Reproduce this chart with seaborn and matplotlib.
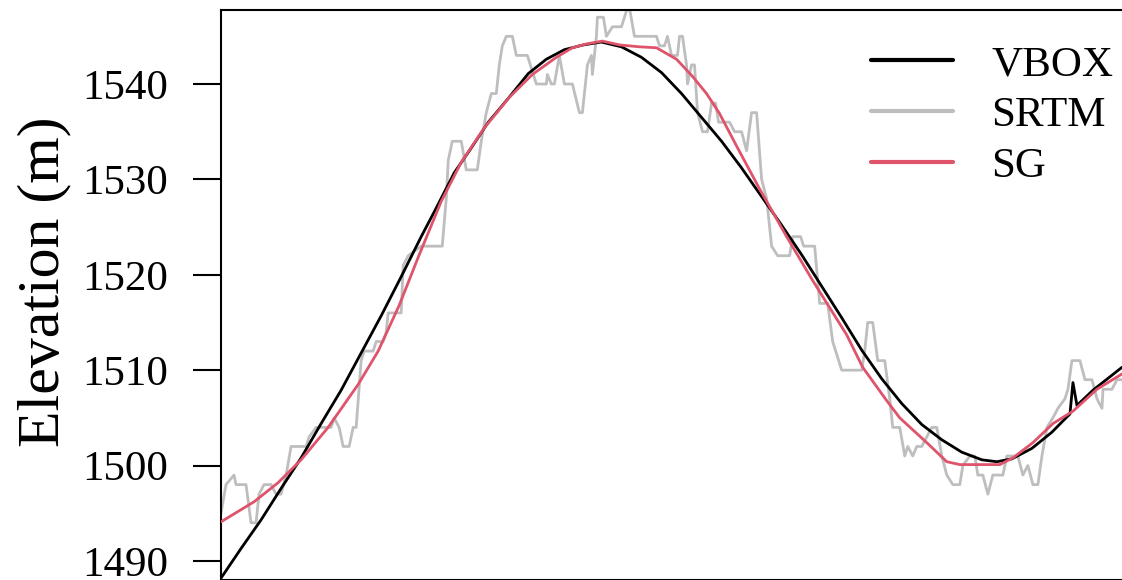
import pandas as pd
import matplotlib
matplotlib.use("Agg")
import matplotlib.pyplot as plt
import seaborn as sns

# distance along track (m) and elevation (m)

vbox_dist = [0, 20, 40, 60, 80, 100, 120, 140, 160, 180, 200, 215, 233, 250, 267,
             287, 307, 325, 343, 362, 380, 400, 420, 440, 460, 480, 500, 520, 540,
             560, 580, 600, 620, 640, 660, 680, 700, 720, 740, 760, 775, 790, 810,
             830, 845, 848, 851, 855, 871, 900]
vbox_elev = [1488.2, 1491.3, 1494.3, 1497.6, 1500.8, 1504.4, 1507.9, 1511.8, 1515.7,
             1519.8, 1524.0, 1527.0, 1530.7, 1533.3, 1536.0, 1538.5, 1541.1, 1542.6,
             1543.6, 1544.1, 1544.4, 1543.9, 1542.8, 1541.2, 1539.0, 1536.5, 1534.0,
             1531.2, 1528.2, 1525.2, 1522.1, 1518.8, 1515.5, 1512.1, 1509.1, 1506.5,
             1504.3, 1502.7, 1501.4, 1500.6, 1500.4, 1500.7, 1501.8, 1503.5, 1505.1,
             1505.4, 1508.7, 1506.3, 1507.9, 1510.3]

srtm_dist = [0, 5, 13, 15, 25, 30, 35, 38, 43, 50, 55, 60, 65, 70, 85, 88, 95, 110,
             113, 118, 122, 128, 132, 135, 140, 143, 152, 155, 162, 165, 167, 180,
             182, 187, 200, 221, 225, 227, 231, 240, 245, 256, 260, 265, 270, 275,
             278, 281, 285, 291, 295, 306, 315, 325, 326, 330, 333, 338, 343, 351,
             358, 361, 366, 370, 371, 375, 376, 382, 385, 391, 400, 406, 408, 413,
             435, 438, 443, 446, 450, 456, 458, 461, 465, 466, 470, 473, 476, 481,
             486, 490, 494, 497, 508, 513, 520, 525, 530, 535, 540, 545, 550, 556,
             568, 571, 579, 582, 593, 598, 606, 611, 620, 640, 643, 646, 651, 656,
             663, 668, 671, 678, 683, 686, 691, 695, 700, 705, 710, 715, 720, 725,
             731, 738, 741, 748, 753, 756, 761, 766, 771, 776, 781, 785, 793, 796,
             801, 806, 811, 816, 820, 825, 831, 836, 843, 846, 850, 858, 863, 870,
             875, 880, 881, 890, 895, 900]
srtm_elev = [1495, 1498, 1499, 1498, 1498, 1494, 1494, 1497, 1498, 1498, 1497, 1497,
             1499, 1502, 1502, 1503, 1504, 1504, 1505, 1504, 1502, 1502, 1504, 1504,
             1511, 1512, 1512, 1513, 1513, 1514, 1516, 1516, 1521, 1522, 1523, 1523,
             1528, 1532, 1534, 1534, 1531, 1531, 1534, 1537, 1539, 1539, 1542, 1544,
             1545, 1545, 1543, 1543, 1540, 1540, 1541, 1540, 1540, 1543, 1540, 1540,
             1537, 1537, 1542, 1543, 1541, 1545, 1547, 1547, 1545, 1546, 1546, 1548,
             1548, 1545, 1545, 1544, 1544, 1545, 1543, 1543, 1545, 1545, 1542, 1540,
             1542, 1542, 1537, 1535, 1535, 1538, 1538, 1536, 1536, 1535, 1535, 1533,
             1537, 1537, 1530, 1528, 1523, 1522, 1522, 1524, 1524, 1523, 1523, 1517,
             1517, 1513, 1510, 1510, 1512, 1515, 1515, 1511, 1511, 1507, 1504, 1504,
             1501, 1502, 1501, 1502, 1502, 1503, 1504, 1504, 1501, 1499, 1498, 1498,
             1500, 1501, 1501, 1499, 1499, 1497, 1499, 1499, 1499, 1501, 1501, 1501,
             1499, 1500, 1498, 1498, 1501, 1504, 1505, 1506, 1507, 1508, 1511, 1511,
             1509, 1509, 1507, 1506, 1508, 1508, 1509, 1509]

sg_dist = [0, 33, 57, 80, 107, 137, 157, 178, 198, 220, 240, 263, 288, 311, 335, 351,
           365, 381, 398, 418, 435, 455, 471, 485, 498, 515, 538, 565, 591, 625, 641,
           665, 678, 705, 725, 738, 778, 791, 811, 831, 851, 875, 900]
sg_elev = [1494.1, 1496.2, 1498.2, 1500.6, 1504.0, 1508.5, 1512.0, 1516.8, 1522.1,
           1527.7, 1531.8, 1535.4, 1538.6, 1541.0, 1542.8, 1543.8, 1544.2, 1544.5,
           1544.1, 1543.9, 1543.8, 1542.6, 1540.8, 1539.0, 1536.9, 1533.5, 1529.0,
           1524.0, 1519.4, 1513.7, 1510.3, 1506.8, 1505.0, 1502.4, 1500.4, 1500.1,
           1500.1, 1500.8, 1502.4, 1504.4, 1505.7, 1508.0, 1509.6]

vbox = pd.DataFrame({"dist": vbox_dist, "elev": vbox_elev})
srtm = pd.DataFrame({"dist": srtm_dist, "elev": srtm_elev})
sg = pd.DataFrame({"dist": sg_dist, "elev": sg_elev})

sns.set_style("ticks")
plt.rcParams['font.family'] = ['Liberation Serif', 'DejaVu Serif']
plt.rcParams['text.color'] = 'black'
plt.rcParams['ytick.color'] = 'black'
plt.rcParams['ytick.labelcolor'] = 'black'

fig = plt.figure(figsize=(11.22, 5.8), dpi=100)
ax = fig.add_axes([221 / 1122, 0.0, 1 - 221 / 1122, 570 / 580])

sns.lineplot(data=srtm, x="dist", y="elev", color="#BEBEBE", lw=2.0, ax=ax,
             estimator=None, sort=False, zorder=1)
sns.lineplot(data=vbox, x="dist", y="elev", color="black", lw=2.0, ax=ax,
             estimator=None, sort=False, zorder=2)
sns.lineplot(data=sg, x="dist", y="elev", color="#DF536B", lw=2.0, ax=ax,
             estimator=None, sort=False, zorder=3)
srtm_line, vbox_line, sg_line = ax.lines[:3]

ax.set_xlim(0, 900)
ax.set_ylim(1488.0, 1547.76)
ax.set_xticks([])
ax.set_yticks([1490, 1500, 1510, 1520, 1530, 1540])
ax.tick_params(axis="y", labelsize=31, length=20, width=1.5, pad=18, color="black")
ax.set_xlabel("")
ax.set_ylabel("")
for s in ["left", "top", "bottom"]:
    ax.spines[s].set_linewidth(1.5)
    ax.spines[s].set_color("black")
ax.spines["right"].set_visible(False)

fig.text(44 / 1122, 1 - 282 / 580, "Elevation (m)", rotation=90,
         ha="center", va="center", fontsize=43)

leg = ax.legend([vbox_line, srtm_line, sg_line], ["VBOX", "SRTM", "SG"],
                loc="upper left", bbox_to_anchor=(871 / 1122, 1 - 45 / 580),
                bbox_transform=fig.transFigure, frameon=False, fontsize=31,
                handlelength=1.9, handletextpad=0.9, labelspacing=0.27,
                borderpad=0, borderaxespad=0)
for h in leg.get_lines():
    h.set_linewidth(3)

fig.savefig("out.png", dpi=100)
